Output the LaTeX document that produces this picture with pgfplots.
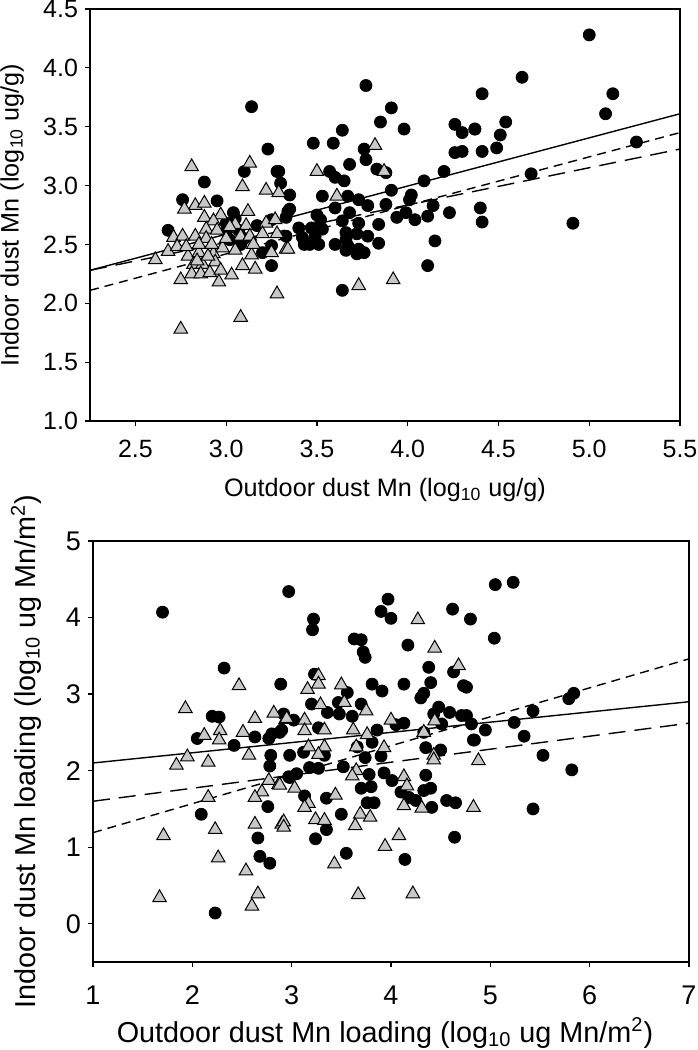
\documentclass[border=0pt]{standalone}
\usepackage{fontspec}
\setmainfont{Liberation Sans}
\usepackage{pgfplots}
\pgfplotsset{compat=1.18}
\definecolor{trigray}{HTML}{C8C8C8}

\pgfplotsset{
  dustax/.style={
    scale only axis,
    axis line style={line width=0.6pt},
    tick align=outside, xtick pos=bottom, ytick pos=left,
    major tick length=2.5pt,
    tick style={black, line width=0.6pt},
    /pgf/number format/assume math mode=true,
    clip=true,
  },
  circ/.style={only marks, mark=*, mark size=3pt, mark options={fill=black, draw=black}},
  tri/.style={only marks, mark=triangle*, mark size=3.9pt, mark options={fill=trigray, draw=black, line width=0.5pt}},
  longdash/.style={black, line width=0.7pt, dash pattern=on 8.5pt off 4.5pt},
  shortdash/.style={black, line width=0.7pt, dash pattern=on 4.5pt off 3pt},
}

\begin{document}
\begin{tikzpicture}
\useasboundingbox (0,0) rectangle (348.5pt,525pt);

% top panel: concentration
\begin{axis}[dustax,
  at={(45pt,314.5pt)}, anchor=south west,
  width=295pt, height=206pt,
  xmin=2.25, xmax=5.5, ymin=1.0, ymax=4.5,
  xtick={2.5,3.0,...,5.5}, ytick={1.0,1.5,...,4.5},
  ticklabel style={font=\fontsize{12.5}{14}\selectfont},
  xticklabel style={yshift=-3.5pt, /pgf/number format/.cd, fixed, fixed zerofill, precision=1},
  yticklabel style={/pgf/number format/.cd, fixed, fixed zerofill, precision=1},
  label style={font=\fontsize{12.6}{14}\selectfont},
  xlabel style={at={(axis description cs:0.5,0)}, anchor=center, yshift=-34.5pt},
  ylabel style={at={(axis description cs:0,0.5)}, anchor=center, rotate=0, yshift=39pt},
  xlabel={Outdoor dust Mn (log\textsubscript{10} ug/g)},
  ylabel={Indoor dust Mn (log\textsubscript{10} ug/g)},
]
\addplot[circ] coordinates {
  (3.14,3.67)(3.23,3.31)(3.10,3.12)(3.28,3.12)(2.88,3.03)(3.30,3.02)(2.76,2.88)
  (2.95,2.87)(3.04,2.77)(3.34,2.78)(2.68,2.62)(3.00,2.61)(3.17,2.66)(3.25,2.71)
  (3.02,2.54)(3.08,2.50)(3.20,2.43)(3.25,2.49)(3.25,2.32)(3.33,2.57)
  (3.05,2.72)(3.07,2.62)(3.10,2.55)(3.00,2.68)
  (3.77,3.85)(3.91,3.66)(3.85,3.54)(3.98,3.48)(3.64,3.47)(3.48,3.36)(3.59,3.36)
  (4.26,3.52)(4.30,3.45)(4.37,3.48)(4.26,3.28)(4.30,3.29)(3.76,3.31)(3.77,3.22)
  (3.68,3.18)(3.83,3.14)(3.88,3.11)(3.57,3.12)(3.60,3.07)(3.65,3.04)(4.20,3.12)
  (4.09,3.04)(3.91,2.96)(4.02,2.92)(4.01,2.88)(3.53,2.91)(3.67,2.91)(3.73,2.88)
  (3.88,2.84)(4.14,2.83)(4.23,2.77)(3.60,2.81)(3.78,2.83)(3.68,2.77)(3.35,2.92)
  (3.29,3.12)(3.35,2.80)(3.33,2.73)(3.50,2.75)(3.52,2.71)(3.94,2.73)(3.99,2.77)
  (4.04,2.71)(4.11,2.74)(3.64,2.70)(3.73,2.68)(3.84,2.67)(3.40,2.64)(3.47,2.64)
  (3.53,2.63)(3.66,2.60)(3.72,2.59)(3.78,2.57)(3.42,2.56)(3.49,2.57)(3.66,2.54)
  (3.43,2.50)(3.51,2.50)(3.60,2.50)(3.67,2.49)(3.73,2.46)(3.84,2.51)(3.46,2.50)
  (3.66,2.45)(3.76,2.43)(3.72,2.42)(4.15,2.53)(4.11,2.32)(3.64,2.11)
  (5.00,4.28)(4.63,3.92)(4.41,3.78)(5.13,3.78)(5.09,3.61)(4.37,3.48)(4.54,3.54)
  (4.51,3.43)(4.49,3.32)(4.41,3.29)(5.26,3.37)(4.68,3.10)(4.40,2.81)(4.41,2.69)
  (4.91,2.68)
};
\addplot[tri] coordinates {
  (2.81,3.16)(3.13,3.19)(3.09,2.99)(3.22,2.96)(3.29,2.94)(2.83,2.83)(2.88,2.85)
  (2.77,2.80)(2.88,2.73)(2.97,2.75)(3.12,2.78)(2.93,2.70)(2.89,2.63)(3.05,2.67)
  (3.11,2.66)(3.22,2.68)(3.27,2.71)(2.71,2.56)(2.76,2.57)(2.83,2.57)(2.89,2.55)
  (3.08,2.57)(3.13,2.57)(3.20,2.59)(3.28,2.59)(2.68,2.44)(2.61,2.37)(2.79,2.40)
  (2.85,2.43)(2.93,2.42)(2.98,2.47)(3.14,2.41)(3.25,2.43)(3.33,2.46)(2.82,2.33)
  (2.87,2.33)(2.94,2.35)(3.09,2.32)(3.16,2.29)(2.75,2.20)(2.81,2.25)(2.86,2.25)
  (2.91,2.26)(2.97,2.28)(3.03,2.24)(2.96,2.18)(3.28,2.08)(3.08,1.88)(2.75,1.78)
  (3.82,3.34)(3.50,3.12)(3.87,3.12)(3.61,2.91)(3.34,2.46)(3.73,2.15)(3.92,2.20)
  (2.73,2.48)(2.78,2.48)(2.85,2.50)(2.92,2.50)(3.00,2.55)(3.05,2.45)(2.95,2.62)
  (3.02,2.65)(2.84,2.36)(2.90,2.40)(3.15,2.50)
};
\addplot[black, line width=0.7pt] coordinates {(2.25,2.28) (5.5,3.61)};
\addplot[longdash] coordinates {(2.25,2.28) (5.5,3.31)};
\addplot[shortdash] coordinates {(2.25,2.11) (5.5,3.45)};
\end{axis}

% bottom panel: loading
\begin{axis}[dustax,
  at={(46.5pt,44pt)}, anchor=south west,
  width=298pt, height=210.5pt,
  xmin=1, xmax=7, ymin=-0.5, ymax=5,
  xtick={1,...,7}, ytick={0,...,5},
  ticklabel style={font=\fontsize{13.5}{15}\selectfont},
  xticklabel style={yshift=-6pt},
  label style={font=\fontsize{14.4}{16}\selectfont},
  xlabel style={at={(axis description cs:0.5,0)}, anchor=center, yshift=-35.5pt, xshift=-3pt},
  ylabel style={at={(axis description cs:0,0.5)}, anchor=center, yshift=33.5pt},
  xlabel={Outdoor dust Mn loading (log\textsubscript{10} ug Mn/m\textsuperscript{2})},
  ylabel={Indoor dust Mn loading (log\textsubscript{10} ug Mn/m\textsuperscript{2})},
]
\addplot[circ] coordinates {
  (1.70,4.07)(2.32,3.34)(2.89,3.13)(2.97,4.34)(2.20,2.71)(2.27,2.70)(2.05,2.42)
  (2.63,2.44)(2.80,2.48)(2.90,2.53)
  (2.42,2.33)(2.77,2.42)(2.88,2.50)(2.79,2.20)(2.78,2.06)(2.97,1.92)(2.76,1.53)
  (2.09,1.43)(2.66,1.12)(2.68,0.88)(2.78,0.79)(2.23,0.14)
  (3.97,4.24)(3.90,4.08)(4.00,3.99)(4.62,4.11)(4.80,3.98)(3.22,3.98)(3.21,3.84)
  (3.63,3.72)(3.70,3.71)(3.72,3.55)(3.74,3.48)(4.17,3.64)(4.38,3.35)(4.63,3.29)
  (4.73,3.11)(4.40,3.15)(4.33,3.01)(4.30,2.95)(3.81,3.13)(3.91,3.04)(4.13,3.13)
  (3.23,3.26)(3.20,2.87)(3.56,3.02)(3.47,2.89)(3.70,2.87)(3.36,2.76)(3.48,2.74)
  (3.61,2.71)(4.48,2.83)(4.59,2.76)(4.43,2.74)(4.71,2.72)(4.81,2.61)(2.92,2.74)
  (3.02,2.66)(3.86,2.53)(4.13,2.62)(4.05,2.60)(3.27,2.56)(4.51,2.61)
  (4.33,2.50)(2.98,2.20)(3.12,2.24)(3.33,2.20)(3.66,2.31)(3.81,2.37)(3.74,2.17)
  (3.90,2.19)(4.35,2.30)(4.50,2.27)(4.83,2.40)(3.18,2.04)(3.27,2.03)(3.52,2.05)
  (2.98,1.91)(3.05,1.96)(3.78,1.95)(3.93,1.97)(4.01,1.87)(4.35,1.94)(3.70,1.77)
  (3.80,1.79)(4.10,1.72)(4.33,1.74)(4.40,1.77)(4.18,1.65)(4.25,1.61)(3.76,1.58)
  (3.83,1.58)(4.41,1.52)(4.56,1.61)(4.65,1.58)(3.13,1.67)(3.35,1.64)(3.50,1.43)
  (3.35,1.23)(3.24,1.11)(3.55,0.92)(4.14,0.84)(4.64,1.13)
  (5.05,4.43)(5.23,4.46)(5.04,3.73)(4.76,3.09)(4.76,2.72)(4.95,2.53)(4.84,2.40)
  (5.24,2.63)(5.34,2.45)(5.43,2.78)(5.79,2.94)(5.84,3.01)(5.53,2.20)(5.82,2.01)
  (5.43,1.50)
};
\addplot[tri] coordinates {
  (2.47,3.11)(1.93,2.81)(2.63,2.68)(2.82,2.75)(2.28,2.52)(2.12,2.46)(2.51,2.50)
  (2.94,2.67)
  (2.27,2.40)(1.95,2.18)(1.84,2.07)(2.16,2.11)(2.57,2.20)(2.77,1.87)(2.87,1.82)
  (2.70,1.72)(2.63,1.65)(2.16,1.65)(2.63,1.30)(2.90,1.30)(2.23,1.23)(1.71,1.15)
  (2.26,0.86)(2.54,0.69)(2.66,0.39)(2.60,0.23)(1.67,0.34)
  (4.27,3.97)(4.44,3.60)(4.68,3.37)(3.27,3.24)(3.27,3.13)(3.16,3.06)(3.50,3.12)
  (3.29,2.86)(3.53,2.89)(3.75,2.78)(2.95,2.68)(3.13,2.66)(3.13,2.52)(3.33,2.53)
  (3.62,2.53)(4.00,2.66)(4.44,2.65)(3.76,2.47)(4.33,2.50)
  (3.17,2.31)(3.33,2.31)(3.27,2.21)(3.65,2.31)(3.93,2.30)(4.43,2.20)(4.43,2.14)
  (3.65,2.00)(3.61,1.93)(4.13,1.92)(4.16,1.80)(2.88,1.81)(3.03,1.77)(3.44,1.68)
  (3.17,1.57)(3.13,1.52)(4.13,1.54)(4.31,1.51)(4.83,1.52)(3.69,1.43)(3.79,1.39)
  (3.24,1.36)(3.33,1.35)(3.64,1.28)(2.92,1.33)(2.92,1.26)(4.08,1.15)(3.94,1.01)
  (3.43,0.78)(3.67,0.38)(4.22,0.39)(4.88,2.13)
};
\addplot[black, line width=0.7pt] coordinates {(1,2.10) (7,2.90)};
\addplot[longdash] coordinates {(1,1.60) (7,2.62)};
\addplot[shortdash] coordinates {(1,1.19) (7,3.46)};
\end{axis}
\end{tikzpicture}
\end{document}
